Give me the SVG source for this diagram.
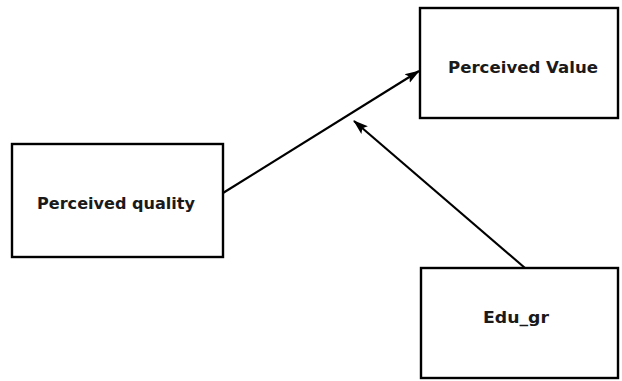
<svg xmlns="http://www.w3.org/2000/svg" width="622" height="381" viewBox="0 0 622 381">
<style>
.box{fill:#fff;stroke:#000;stroke-width:2.4}
.lbl{font-family:"DejaVu Sans",Verdana,sans-serif;font-weight:bold;font-size:16px;fill:#1a1a1a}
.edge{stroke:#000;stroke-width:2.2;fill:none;marker-end:url(#ah)}
</style>
<defs>
<marker id="ah" markerWidth="16" markerHeight="12" refX="14" refY="6" orient="auto" markerUnits="userSpaceOnUse">
<path d="M0,1 L15,6 L0,11 L3,6 Z" fill="#000"/>
</marker>
</defs>
<rect width="622" height="381" fill="#fff"/>
<g id="connectors">
<line class="edge" x1="223" y1="193" x2="419" y2="71"/>
<line class="edge" x1="525" y1="268" x2="354" y2="121"/>
</g>
<g id="perceived-quality">
<rect class="box" x="12" y="144" width="211" height="113"/>
<text class="lbl" x="37" y="209" textLength="158" lengthAdjust="spacingAndGlyphs">Perceived quality</text>
</g>
<g id="perceived-value">
<rect class="box" x="420" y="8" width="198" height="110"/>
<text class="lbl" x="448" y="73" textLength="150" lengthAdjust="spacingAndGlyphs">Perceived Value</text>
</g>
<g id="edu-gr">
<rect class="box" x="421" y="268" width="197" height="110"/>
<text class="lbl" x="483" y="323" textLength="66" lengthAdjust="spacingAndGlyphs">Edu_gr</text>
</g>
</svg>
